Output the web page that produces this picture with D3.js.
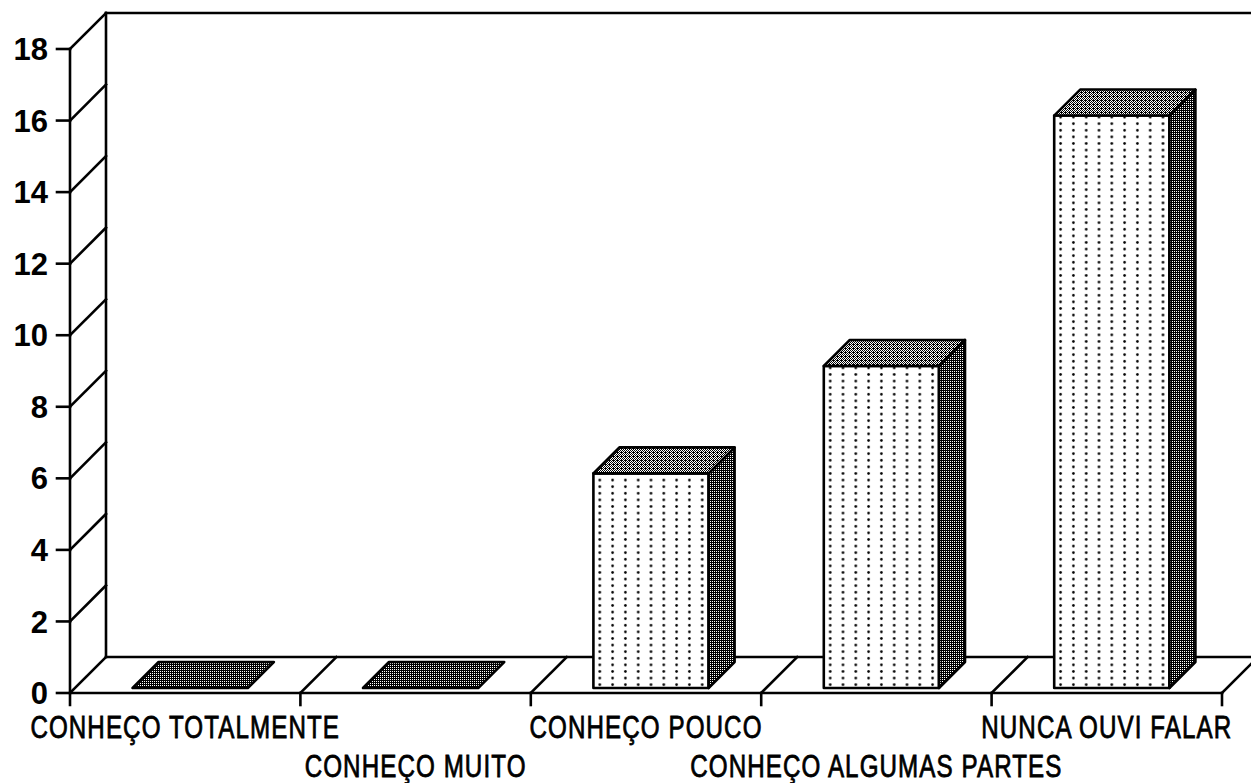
<!DOCTYPE html>
<html>
<head>
<meta charset="utf-8">
<script src="https://cdn.jsdelivr.net/npm/d3@7"></script>
<style>
  body { margin: 0; background: #fff; }
  svg { display: block; }
</style>
</head>
<body>
<div id="chart"></div>
<script>
// data
var categories = ["CONHEÇO TOTALMENTE", "CONHEÇO MUITO", "CONHEÇO POUCO",
                  "CONHEÇO ALGUMAS PARTES", "NUNCA OUVI FALAR"];
var values = [0, 0, 6, 9, 16];
var yTicks = [0, 2, 4, 6, 8, 10, 12, 14, 16, 18];

var width = 1251, height = 783;
var depth = 36;          // 3d offset of the back wall
var barFront = 5, barDeep = 26;

var svg = d3.select("#chart").append("svg")
    .attr("width", width)
    .attr("height", height);

var x = d3.scaleBand()
    .domain(categories)
    .range([70, 1222])
    .padding(0);

var y = d3.scaleLinear()
    .domain([0, 18])
    .range([693, 49]);

// dither patterns for the shaded faces (ordered 4x4 matrix)
var bayer = [[0, 8, 2, 10], [12, 4, 14, 6], [3, 11, 1, 9], [15, 7, 13, 5]];
var defs = svg.append("defs");

function dither(id, level) {
    var p = defs.append("pattern")
        .attr("id", id)
        .attr("patternUnits", "userSpaceOnUse")
        .attr("width", 4)
        .attr("height", 4);
    p.append("rect").attr("width", 4).attr("height", 4).attr("fill", "#fff");
    bayer.forEach(function (row, r) {
        row.forEach(function (t, c) {
            if (t < level) {
                p.append("rect")
                    .attr("x", c).attr("y", r)
                    .attr("width", 1).attr("height", 1)
                    .attr("fill", "#000");
            }
        });
    });
}
dither("topShade", 9);
dither("sideShade", 12);

var bw = x.bandwidth();
function bar0(d) { return x(d) + bw * 0.25 + barFront; }

// dotted front faces, one pattern per bar so the columns line up
categories.forEach(function (c, i) {
    var p = defs.append("pattern")
        .attr("id", "dots" + i)
        .attr("patternUnits", "userSpaceOnUse")
        .attr("x", bar0(c))
        .attr("y", y(0) - barFront)
        .attr("width", bw * 0.5 / 9)
        .attr("height", 6.6);
    p.append("rect").attr("width", bw * 0.5 / 9).attr("height", 6.6).attr("fill", "#fff");
    p.append("circle")
        .attr("cx", bw * 0.5 / 18)
        .attr("cy", 3.3)
        .attr("r", 1.3)
        .attr("fill", "#000");
});

var axis = svg.append("g")
    .attr("fill", "none")
    .attr("stroke", "#000")
    .attr("stroke-width", 2.6)
    .attr("stroke-linecap", "square");

var x0 = x.range()[0], x1 = x.range()[1];

// left wall: front axis line, back line, diagonals at each tick
axis.append("line")
    .attr("x1", x0).attr("y1", y(18))
    .attr("x2", x0).attr("y2", y(0) + 12);
axis.append("line")
    .attr("x1", x0 + depth).attr("y1", y(18) - depth)
    .attr("x2", x0 + depth).attr("y2", y(0) - depth);
axis.selectAll(".ytick")
    .data(yTicks)
    .enter().append("line")
    .attr("x1", x0 - 13).attr("y1", function (d) { return y(d); })
    .attr("x2", x0).attr("y2", function (d) { return y(d); });
axis.selectAll(".ydiag")
    .data(yTicks)
    .enter().append("line")
    .attr("x1", x0).attr("y1", function (d) { return y(d); })
    .attr("x2", x0 + depth).attr("y2", function (d) { return y(d) - depth; });

// back wall top edge
axis.append("line")
    .attr("x1", x0 + depth).attr("y1", y(18) - depth)
    .attr("x2", x1 + depth).attr("y2", y(18) - depth);

// floor
axis.append("line")
    .attr("x1", x0).attr("y1", y(0))
    .attr("x2", x1).attr("y2", y(0));
axis.append("line")
    .attr("x1", x0 + depth).attr("y1", y(0) - depth)
    .attr("x2", x1 + depth).attr("y2", y(0) - depth);

var edges = categories.slice(1).map(function (c) { return x(c); }).concat([x1]);
axis.selectAll(".xdiag")
    .data(edges)
    .enter().append("line")
    .attr("x1", function (d) { return d; }).attr("y1", y(0))
    .attr("x2", function (d) { return d + depth; }).attr("y2", y(0) - depth);
axis.selectAll(".xtick")
    .data(edges)
    .enter().append("line")
    .attr("x1", function (d) { return d; }).attr("y1", y(0))
    .attr("x2", function (d) { return d; }).attr("y2", y(0) + 12);

// bars
var bars = svg.selectAll(".bar")
    .data(values)
    .enter().append("g")
    .attr("class", "bar")
    .attr("stroke", "#000")
    .attr("stroke-width", 2.6)
    .attr("stroke-linejoin", "round");

bars.each(function (v, i) {
    var g = d3.select(this);
    var left = bar0(categories[i]);
    var right = left + bw * 0.5;
    var base = y(0) - barFront;
    var top = y(v) - barFront;

    if (v > 0) {
        g.append("rect")
            .attr("x", left).attr("y", top)
            .attr("width", right - left).attr("height", base - top)
            .attr("fill", "url(#dots" + i + ")");
        g.append("polygon")
            .attr("points", [[right, top], [right + barDeep, top - barDeep],
                             [right + barDeep, base - barDeep], [right, base]].join(" "))
            .attr("fill", "url(#sideShade)");
    }
    g.append("polygon")
        .attr("points", [[left, top], [right, top],
                         [right + barDeep, top - barDeep], [left + barDeep, top - barDeep]].join(" "))
        .attr("fill", v > 0 ? "url(#topShade)" : "url(#sideShade)");
});

// y tick labels
svg.selectAll(".ylab")
    .data(yTicks)
    .enter().append("text")
    .attr("x", x0 - 22)
    .attr("y", function (d) { return y(d); })
    .attr("dy", "0.36em")
    .attr("text-anchor", "end")
    .style("font-family", "'Liberation Sans', Arial, sans-serif")
    .style("font-size", "31px")
    .style("font-weight", "bold")
    .text(function (d) { return d; });

// category labels, staggered on two rows, squeezed to look like a narrow face
svg.selectAll(".xlab")
    .data(categories)
    .enter().append("text")
    .attr("transform", function (d, i) {
        return "translate(" + (x(d) + bw / 2) + "," + (y(0) + 45 + (i % 2) * 39) + ") scale(0.78,1)";
    })
    .attr("text-anchor", "middle")
    .style("font-family", "'Liberation Sans', Arial, sans-serif")
    .style("font-size", "31px")
    .style("letter-spacing", "1.4px")
    .style("stroke", "#000")
    .style("stroke-width", "0.8px")
    .text(function (d) { return d; });
</script>
</body>
</html>
